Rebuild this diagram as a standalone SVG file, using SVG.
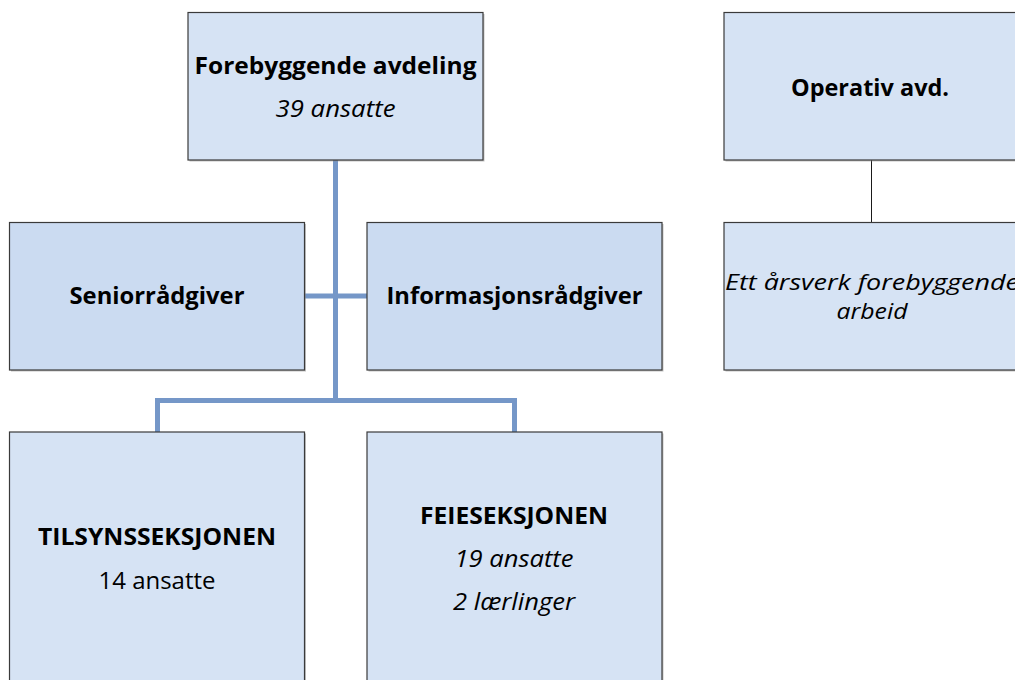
<svg xmlns="http://www.w3.org/2000/svg" width="1015" height="680" viewBox="0 0 1015 680">
<style>
.box{fill:#d6e3f4;stroke:#3a3a3a;stroke-width:1.2}
.box2{fill:#cbdbf1;stroke:#3a3a3a;stroke-width:1.2}
.sh{fill:#8a8a8a;opacity:0.5}
text{font-family:"Open Sans","Noto Sans","Liberation Sans",sans-serif;font-size:23px;fill:#000;text-anchor:middle}
.b{font-weight:bold}
.i{font-style:italic}
.s{font-size:22px}
.conn{stroke:#7597c8;stroke-width:5;fill:none;stroke-linecap:butt}
.thin{stroke:#1a1a1a;stroke-width:1;fill:none}
</style>
<rect width="1015" height="680" fill="#ffffff"/>
<g id="connectors">
<line class="conn" x1="335.5" y1="160" x2="335.5" y2="400.5"/>
<line class="conn" x1="305" y1="296" x2="367" y2="296"/>
<path class="conn" d="M157.5 432 V400.5 H514.5 V432"/>
<line class="thin" x1="871.5" y1="160" x2="871.5" y2="222"/>
</g>
<g id="node-forebyggende">
<rect class="sh" x="189.5" y="14" width="295" height="147.5"/>
<rect class="box" x="188" y="12.5" width="295" height="147.5"/>
<text class="b" x="335.5" y="74" textLength="282" lengthAdjust="spacingAndGlyphs">Forebyggende avdeling</text>
<text class="i" x="335.5" y="117" textLength="120" lengthAdjust="spacingAndGlyphs">39 ansatte</text>
</g>
<g id="node-operativ">
<rect class="sh" x="725.5" y="14" width="296" height="147.5"/>
<rect class="box" x="724" y="12.5" width="296" height="147.5"/>
<text class="b" x="870" y="96" textLength="158" lengthAdjust="spacingAndGlyphs">Operativ avd.</text>
</g>
<g id="node-seniorradgiver">
<rect class="sh" x="11" y="224" width="295" height="147.5"/>
<rect class="box2" x="9.5" y="222.5" width="295" height="147.5"/>
<text class="b" x="157" y="304" textLength="175" lengthAdjust="spacingAndGlyphs">Seniorrådgiver</text>
</g>
<g id="node-informasjonsradgiver">
<rect class="sh" x="368.5" y="224" width="295" height="147.5"/>
<rect class="box2" x="367" y="222.5" width="295" height="147.5"/>
<text class="b" x="514.5" y="304" textLength="256" lengthAdjust="spacingAndGlyphs">Informasjonsrådgiver</text>
</g>
<g id="node-arsverk">
<rect class="sh" x="725.5" y="224" width="296" height="147.5"/>
<rect class="box" x="724" y="222.5" width="296" height="147.5"/>
<text class="i s" x="872" y="290" textLength="294" lengthAdjust="spacingAndGlyphs">Ett årsverk forebyggende</text>
<text class="i s" x="872" y="319" textLength="71" lengthAdjust="spacingAndGlyphs">arbeid</text>
</g>
<g id="node-tilsyn">
<rect class="sh" x="11" y="433.5" width="295" height="260"/>
<rect class="box" x="9.5" y="432" width="295" height="260"/>
<text class="b" x="157" y="545" textLength="238" lengthAdjust="spacingAndGlyphs">TILSYNSSEKSJONEN</text>
<text x="157" y="589" textLength="117" lengthAdjust="spacingAndGlyphs">14 ansatte</text>
</g>
<g id="node-feie">
<rect class="sh" x="368.5" y="433.5" width="295" height="260"/>
<rect class="box" x="367" y="432" width="295" height="260"/>
<text class="b" x="514" y="524" textLength="188" lengthAdjust="spacingAndGlyphs">FEIESEKSJONEN</text>
<text class="i" x="514" y="567" textLength="119" lengthAdjust="spacingAndGlyphs">19 ansatte</text>
<text class="i" x="514" y="610" textLength="122" lengthAdjust="spacingAndGlyphs">2 lærlinger</text>
</g>
</svg>
